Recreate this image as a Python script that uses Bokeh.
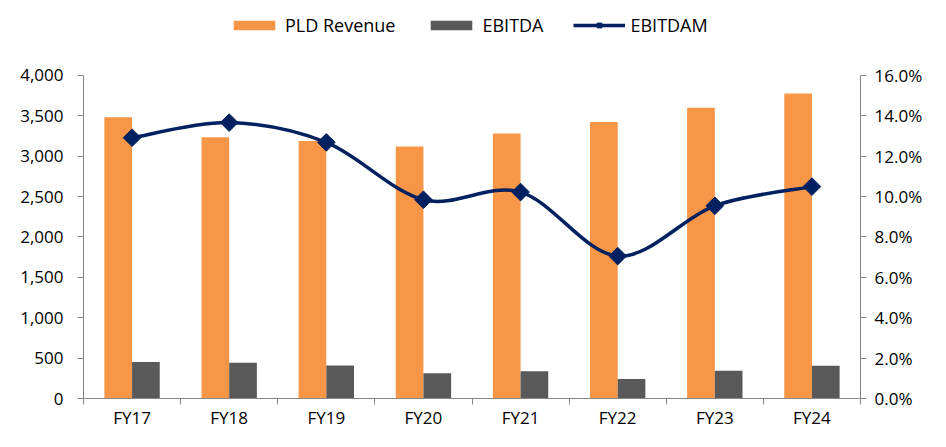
import math
from bokeh.plotting import figure
from bokeh.models import (Range1d, LinearAxis, FixedTicker, NumeralTickFormatter,
                          PrintfTickFormatter, Legend, LegendItem, ColumnDataSource)
from bokeh.transform import dodge
from bokeh.embed import file_html
from bokeh.resources import INLINE

categories = ["FY17", "FY18", "FY19", "FY20", "FY21", "FY22", "FY23", "FY24"]
pld_revenue = [3480, 3233, 3186, 3118, 3281, 3423, 3597, 3775]
ebitda = [451, 444, 408, 313, 337, 242, 344, 404]
ebitdam = [12.91, 13.66, 12.68, 9.84, 10.22, 7.05, 9.54, 10.49]
left_ticks = [0, 500, 1000, 1500, 2000, 2500, 3000, 3500, 4000]
right_ticks = [0, 2, 4, 6, 8, 10, 12, 14, 16]
left_max = 4000
right_max = 16

ORANGE = "#F79646"
GREY = "#595959"
NAVY = "#002060"
AXIS = "#868686"
FONT = "Open Sans"

# frame spans the full height; the axes stop at their maxima (headroom for the legend)
FRAME_H = 399.0
AXIS_TOP = 75.0
stretch = FRAME_H / (FRAME_H - AXIS_TOP)

n = len(categories)
xc = [i + 0.5 for i in range(n)]
src = ColumnDataSource(dict(x=xc, rev=pld_revenue, ebitda=ebitda, m=ebitdam))

# smoothed (Excel-like) bezier segments through the margin points
bx0, by0, bx1, by1, bcx0, bcy0, bcx1, bcy1 = ([] for _ in range(8))
for i in range(n - 1):
    ip = max(i - 1, 0)
    inx = min(i + 2, n - 1)
    bx0.append(xc[i]); by0.append(ebitdam[i])
    bx1.append(xc[i + 1]); by1.append(ebitdam[i + 1])
    bcx0.append(xc[i] + (xc[i + 1] - xc[ip]) / 6.0)
    bcy0.append(ebitdam[i] + (ebitdam[i + 1] - ebitdam[ip]) / 6.0)
    bcx1.append(xc[i + 1] - (xc[inx] - xc[i]) / 6.0)
    bcy1.append(ebitdam[i + 1] - (ebitdam[inx] - ebitdam[i]) / 6.0)
bsrc = ColumnDataSource(dict(x0=bx0, y0=by0, x1=bx1, y1=by1,
                             cx0=bcx0, cy0=bcy0, cx1=bcx1, cy1=bcy1))

p = figure(width=930, height=431, x_range=Range1d(0, n),
           y_range=Range1d(0, left_max * stretch),
           output_backend="svg", toolbar_location=None,
           min_border_left=83, min_border_right=70, min_border_top=0, min_border_bottom=0)
p.grid.visible = False
p.outline_line_color = None
p.background_fill_color = "white"
p.border_fill_color = "white"

p.extra_y_ranges = {"pct": Range1d(0, right_max * stretch)}

# axes
p.xaxis.ticker = FixedTicker(ticks=xc, minor_ticks=list(range(n + 1)))
p.xaxis.major_label_overrides = {xc[i]: categories[i] for i in range(n)}
p.xaxis.major_tick_line_color = None
p.xaxis.major_tick_out = 0
p.xaxis.major_tick_in = 0
p.xaxis.minor_tick_line_color = AXIS
p.xaxis.minor_tick_out = 6
p.xaxis.minor_tick_in = 0
p.xaxis.major_label_standoff = 1

p.yaxis.ticker = FixedTicker(ticks=left_ticks)
p.yaxis.formatter = NumeralTickFormatter(format="0,0")
p.yaxis.bounds = (0, left_max)
p.yaxis.minor_tick_line_color = None
p.yaxis.major_tick_out = 6
p.yaxis.major_tick_in = 0
p.yaxis.major_label_standoff = 14

raxis = LinearAxis(y_range_name="pct", ticker=FixedTicker(ticks=right_ticks),
                   formatter=PrintfTickFormatter(format="%.1f%%"), bounds=(0, right_max))
raxis.minor_tick_line_color = None
raxis.major_tick_out = 6
raxis.major_tick_in = 0
raxis.major_label_standoff = 8
p.add_layout(raxis, "right")

for ax in [p.xaxis[0], p.yaxis[0], raxis]:
    ax.axis_line_color = AXIS
    ax.major_label_text_font = FONT
    ax.major_label_text_font_size = "17px"
    ax.major_label_text_color = "#000000"
    if ax is not p.xaxis[0]:
        ax.major_tick_line_color = AXIS

bw = 0.285
r_rev = p.vbar(x=dodge("x", -bw / 2), top="rev", width=bw, source=src,
               fill_color=ORANGE, line_color=None)
r_eb = p.vbar(x=dodge("x", bw / 2), top="ebitda", width=bw, source=src,
              fill_color=GREY, line_color=None)

p.bezier(x0="x0", y0="y0", x1="x1", y1="y1", cx0="cx0", cy0="cy0", cx1="cx1", cy1="cy1",
         source=bsrc, line_color=NAVY, line_width=3.5, y_range_name="pct")
r_leg_line = p.line(x="x", y="m", source=src, line_color=NAVY, line_width=3.5,
                    y_range_name="pct", visible=False)
r_mk = p.scatter(x="x", y="m", source=src, marker="square", angle=math.pi / 4, size=12.5,
                 fill_color=NAVY, line_color=NAVY, y_range_name="pct")

legend = Legend(items=[LegendItem(label="PLD Revenue", renderers=[r_rev]),
                       LegendItem(label="EBITDA", renderers=[r_eb]),
                       LegendItem(label="EBITDAM", renderers=[r_leg_line, r_mk])],
                orientation="horizontal", location=(145, 361),
                glyph_width=52, glyph_height=12, label_standoff=5, spacing=30,
                padding=0, margin=0, border_line_color=None, background_fill_alpha=0,
                label_text_font=FONT, label_text_font_size="18px", label_text_color="#000000")
p.add_layout(legend, "center")

open("out.html", "w").write(file_html(p, INLINE))
